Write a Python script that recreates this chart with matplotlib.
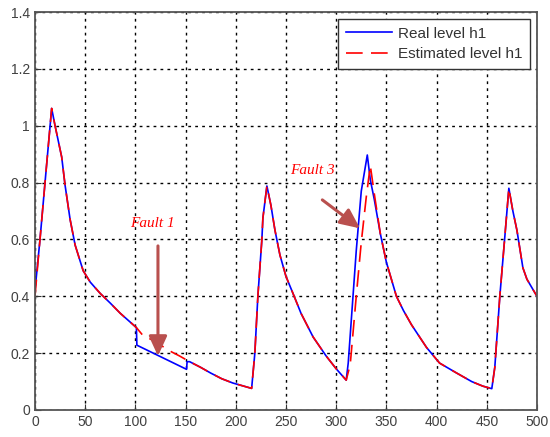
import matplotlib
matplotlib.use("Agg")
import matplotlib.pyplot as plt
import numpy as np

# Real level h1 (blue)
real_x = [0, 5, 10, 16.6, 20, 26.6, 30, 35, 40, 48, 55, 65, 75, 85, 93, 101, 101.5, 151, 151.5,
          154, 165, 175, 186, 197, 215.8,
          219, 222, 226, 227, 231, 235, 239, 244, 250, 257, 265, 277, 290, 300, 310,
          312, 320, 325, 331, 334, 338, 344, 350, 355, 360, 367, 375, 390, 403, 420, 435, 446, 455,
          458, 463, 468, 472, 476, 480, 486, 490, 500]
real_y = [0.42, 0.60, 0.80, 1.061, 1.0, 0.89, 0.79, 0.67, 0.58, 0.49, 0.45, 0.41, 0.376, 0.34, 0.315, 0.29, 0.228, 0.143, 0.17,
          0.17, 0.15, 0.13, 0.11, 0.095, 0.076,
          0.20, 0.40, 0.60, 0.675, 0.788, 0.72, 0.633, 0.545, 0.47, 0.41, 0.34, 0.257, 0.19, 0.145, 0.105,
          0.165, 0.56, 0.77, 0.897, 0.81, 0.74, 0.62, 0.52, 0.46, 0.40, 0.35, 0.30, 0.22, 0.165, 0.13, 0.10, 0.084, 0.075,
          0.15, 0.40, 0.61, 0.78, 0.70, 0.633, 0.50, 0.46, 0.40]

# Estimated level h1 (red dashed)
est_x = [0, 5, 10, 16.6, 20, 26.6, 30, 35, 40, 48, 55, 65, 75, 85, 93, 101, 108, 118, 133, 144,
         154, 165, 175, 186, 197, 215.8,
         219, 222, 226, 227, 231, 235, 239, 244, 250, 257, 265, 277, 290, 300, 310,
         314, 320, 325, 330, 334, 338, 344, 350, 355, 360, 367, 375, 390, 403, 420, 435, 446, 455,
         458, 463, 468, 472, 476, 480, 486, 490, 500]
est_y = [0.40, 0.60, 0.80, 1.061, 1.0, 0.89, 0.79, 0.67, 0.58, 0.49, 0.45, 0.41, 0.376, 0.34, 0.315, 0.29, 0.26, 0.245, 0.21, 0.19,
         0.17, 0.15, 0.13, 0.11, 0.095, 0.076,
         0.20, 0.40, 0.60, 0.675, 0.788, 0.72, 0.633, 0.545, 0.47, 0.41, 0.34, 0.257, 0.19, 0.145, 0.105,
         0.16, 0.40, 0.59, 0.75, 0.86, 0.76, 0.62, 0.52, 0.46, 0.40, 0.35, 0.30, 0.22, 0.165, 0.13, 0.10, 0.084, 0.075,
         0.15, 0.40, 0.61, 0.78, 0.70, 0.633, 0.50, 0.46, 0.40]

xticks = [0, 50, 100, 150, 200, 250, 300, 350, 400, 450, 500]
yticks = [0, 0.2, 0.4, 0.6, 0.8, 1, 1.2, 1.4]
ytick_labels = ["0", "0.2", "0.4", "0.6", "0.8", "1", "1.2", "1.4"]

plt.rcParams['font.family'] = ['Liberation Sans', 'DejaVu Sans']

fig = plt.figure(figsize=(5.5, 4.37), dpi=100)
ax = fig.add_axes([0.0636, 0.0618, 0.9127, 0.9107])

ax.plot(real_x, real_y, color='#0000ff', lw=1.2, label='Real level h1')
ax.plot(est_x, est_y, color='#ff0000', lw=1.2, dashes=(10, 5), label='Estimated level h1')

ax.set_xlim(0, 500)
ax.set_ylim(0, 1.4)
ax.set_xticks(xticks)
ax.set_yticks(yticks)
ax.set_yticklabels(ytick_labels)
ax.grid(True, color='black', linestyle=(0, (2, 3)), linewidth=1.0)
ax.tick_params(direction='in', length=4, labelsize=10, labelcolor='#404040', color='#333333')
for s in ax.spines.values():
    s.set_color('#555555')
    s.set_linewidth(1.3)

leg = ax.legend(loc='upper right', fontsize=11, fancybox=False, framealpha=1,
                edgecolor='#333333', borderaxespad=0.45, handlelength=3.0,
                borderpad=0.5, labelspacing=0.45, handletextpad=0.4)
leg.get_frame().set_linewidth(1.0)
for t in leg.get_texts():
    t.set_color('#333333')

arrow_color = '#b9504e'
ax.text(117, 0.645, 'Fault 1', color='red', fontstyle='italic', family='Liberation Serif', fontsize=11, ha='center')
ax.annotate('', xy=(122.5, 0.18), xytext=(122.5, 0.587),
            arrowprops=dict(arrowstyle='-|>,head_width=0.55,head_length=1.2', color=arrow_color, lw=2.2))
ax.text(276, 0.83, 'Fault 3', color='red', fontstyle='italic', family='Liberation Serif', fontsize=11, ha='center')
ax.annotate('', xy=(326, 0.633), xytext=(284, 0.745),
            arrowprops=dict(arrowstyle='-|>,head_width=0.55,head_length=1.2', color=arrow_color, lw=2.2))

fig.savefig('out.png', dpi=100)
